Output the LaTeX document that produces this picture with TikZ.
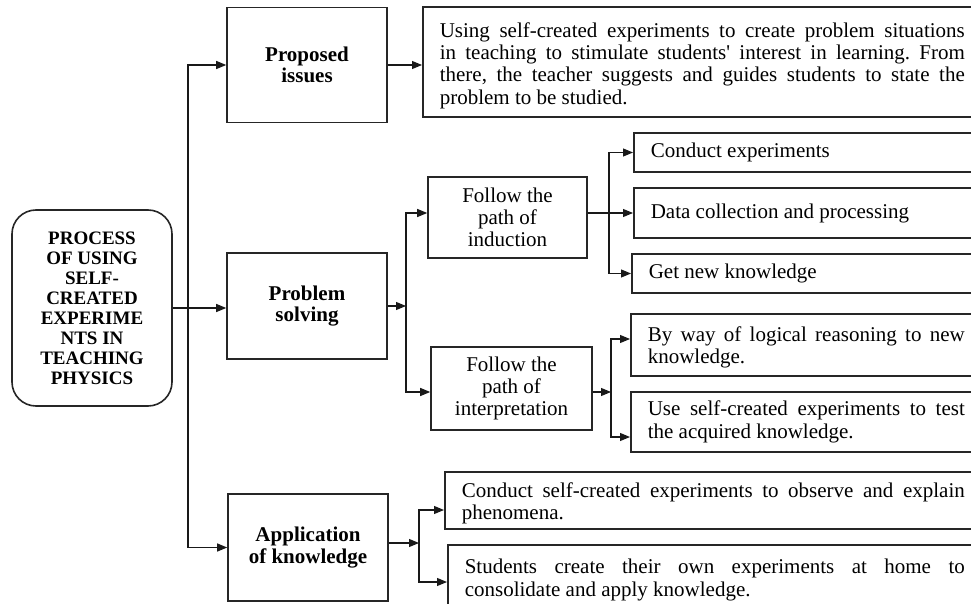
\documentclass[tikz,border=0pt]{standalone}
\usepackage{fontspec}
\setmainfont{Liberation Serif}
\usetikzlibrary{arrows.meta}
\frenchspacing
\newcommand{\jl}[2]{\makebox[#1pt][s]{\spaceskip=0pt\xspaceskip=0pt #2}\\}
\begin{document}
\begin{tikzpicture}[x=1pt,y=-1pt,
  box/.style={draw=black!85, line width=1.6pt, inner sep=0pt},
  bbox/.style={box, font=\fontsize{21}{21.6}\selectfont\bfseries, align=center, minimum width=160pt},
  nbox/.style={box, font=\fontsize{21}{22}\selectfont, align=center},
  tbox/.style={box, font=\fontsize{21}{22.3}\selectfont, align=flush left, inner xsep=17pt, anchor=west},
  arr/.style={line width=1.1pt, draw=black!90, -{Triangle[length=10pt,width=8pt]}}]
\useasboundingbox (0,0) rectangle (971,604);
\clip (0,0) rectangle (971,604);

% main process box
\node[box, rounded corners=24pt, minimum width=160pt, minimum height=196pt,
      font=\fontsize{19}{20}\selectfont\bfseries, align=center] (main) at (92,308)
  {PROCESS\\OF USING\\SELF-\\CREATED\\EXPERIME\\NTS IN\\TEACHING\\PHYSICS};

% stage boxes
\node[bbox, minimum height=115pt] (pi) at (307,65) {Proposed\\issues};
\node[bbox, minimum height=106pt] (ps) at (307,306) {Problem\\solving};
\node[bbox, minimum height=107pt] (app) at (308,547.5) {Application\\of knowledge};

% path boxes
\node[nbox, minimum width=159pt, minimum height=81pt] (ind) at (507.5,217.5) {Follow the\\path of\\induction};
\node[nbox, minimum width=161pt, minimum height=83pt] (int) at (511.5,388.5) {Follow the\\path of\\interpretation};

% right-hand text boxes (extend past the right edge)
\node[tbox, text width=525pt, minimum height=110pt] (tb) at (422,62)
  {\rule{0pt}{22pt}\jl{525}{Using self-created experiments to create problem situations}\jl{525}{in teaching to stimulate students{\textquotesingle} interest in learning. From}\jl{525}{there, the teacher suggests and guides students to state the}problem to be studied.};
\node[tbox, text width=314pt, minimum height=39pt] (ce) at (633,152.5) {Conduct experiments};
\node[tbox, text width=314pt, minimum height=50pt] (da) at (633,213) {Data collection and processing};
\node[tbox, text width=316pt, minimum height=39pt] (gn) at (631,273.5) {Get new knowledge};
\node[tbox, text width=317pt, minimum height=62pt] (bw) at (630,345)
  {\rule{0pt}{20pt}\jl{317}{By way of logical reasoning to new}knowledge.};
\node[tbox, text width=317pt, minimum height=60pt] (us) at (630,422)
  {\jl{317}{Use self-created experiments to test}the acquired knowledge.};
\node[tbox, text width=503pt, minimum height=57pt] (cs) at (444,500.5)
  {\rule{0pt}{21pt}\jl{503}{Conduct self-created experiments to observe and explain}phenomena.};
\node[tbox, text width=500pt, minimum height=70pt] (st) at (447,580)
  {\jl{500}{Students create their own experiments at home to}consolidate and apply knowledge.};

% junction points
\coordinate (jt) at (188,308);
\coordinate (jps) at (406,306);
\coordinate (jind) at (609,213);
\coordinate (jint) at (611,392);
\coordinate (japp) at (419,543);

% main trunk
\draw[arr] (main.east) -- (main.east -| ps.west);
\draw[arr] (jt) |- (pi.west);
\draw[arr] (jt) |- (app.west);

% proposed issues
\draw[arr] (pi.east) -- (pi.east -| tb.west);

% problem solving
\draw[arr] (ps.east) -- (jps);
\draw[arr] (jps) |- ([yshift=4.5pt]ind.west);
\draw[arr] (jps) |- ([yshift=-3.5pt]int.west);

% induction
\draw[arr] (ind.east |- da.west) -- (da.west);
\draw[arr] (jind) |- (ce.west);
\draw[arr] (jind) |- (gn.west);

% interpretation
\draw[arr] (int.east |- jint) -- (jint);
\draw[arr] (jint) |- ([yshift=6pt]bw.west);
\draw[arr] (jint) |- ([yshift=-15pt]us.west);

% application
\draw[arr] (app.east |- japp) -- (japp);
\draw[arr] (japp) |- ([yshift=-9.5pt]cs.west);
\draw[arr] (japp) |- ([yshift=-2pt]st.west);
\end{tikzpicture}
\end{document}
